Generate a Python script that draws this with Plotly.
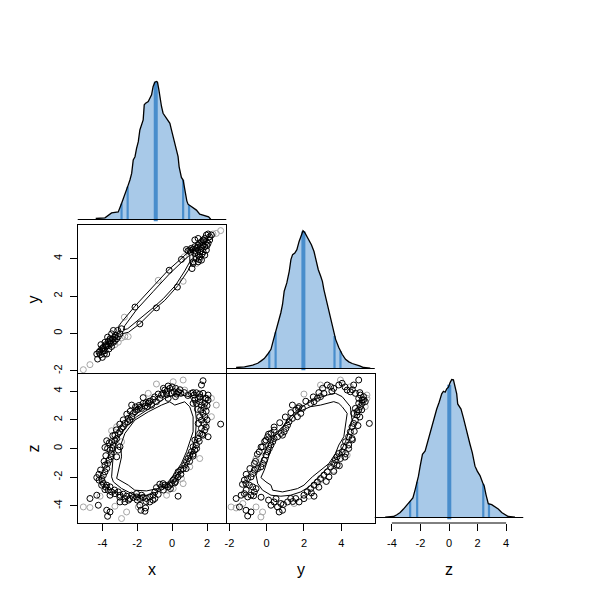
import numpy as np
import plotly.graph_objects as go

# ---------------- data ----------------
# marginal densities (relative height, peak = 1)
dens_x_val = [-4.38, -3.85, -3.47, -3.09, -2.90, -2.71, -2.52, -2.42, -2.32, -2.23, -2.13, -2.04, -1.94, -1.85,
              -1.75, -1.66, -1.60, -1.52, -1.37, -1.28, -1.18, -1.09, -0.99, -0.90, -0.84, -0.76, -0.71, -0.65,
              -0.61, -0.52, -0.42, -0.23, -0.13, -0.04, 0.06, 0.15, 0.25, 0.34, 0.40, 0.46, 0.53, 0.63, 0.72,
              0.78, 0.84, 0.91, 1.07, 1.20, 1.39, 1.58, 1.77, 1.96, 2.09, 2.21]
dens_x_h = [0.007, 0.012, 0.048, 0.055, 0.116, 0.177, 0.249, 0.286, 0.334, 0.431, 0.455, 0.516, 0.564, 0.649,
            0.697, 0.722, 0.831, 0.843, 0.855, 0.879, 0.903, 0.964, 0.995, 1.0, 0.995, 0.940, 0.891, 0.855,
            0.819, 0.770, 0.751, 0.722, 0.697, 0.649, 0.601, 0.564, 0.516, 0.455, 0.382, 0.334, 0.305, 0.286,
            0.225, 0.164, 0.135, 0.111, 0.097, 0.087, 0.068, 0.038, 0.031, 0.026, 0.019, 0.002]

dens_y_val = [-1.64, -1.19, -0.75, -0.48, -0.30, -0.13, 0.05, 0.23, 0.37, 0.50, 0.59, 0.67, 0.76, 0.85, 0.94,
              1.08, 1.21, 1.30, 1.39, 1.51, 1.62, 1.74, 1.87, 1.95, 2.04, 2.15, 2.27, 2.40, 2.54, 2.68, 2.77,
              2.90, 2.99, 3.07, 3.22, 3.34, 3.52, 3.61, 3.70, 3.87, 4.05, 4.23, 4.41, 4.59, 4.76, 4.99, 5.20, 5.56]
dens_y_h = [0.007, 0.012, 0.024, 0.038, 0.055, 0.072, 0.103, 0.139, 0.211, 0.271, 0.307, 0.356, 0.404, 0.464,
            0.560, 0.620, 0.704, 0.789, 0.825, 0.837, 0.861, 0.921, 0.969, 0.998, 0.986, 0.957, 0.933, 0.897,
            0.848, 0.765, 0.716, 0.668, 0.632, 0.572, 0.488, 0.404, 0.307, 0.247, 0.211, 0.152, 0.103, 0.067,
            0.048, 0.036, 0.031, 0.019, 0.007, 0.002]

dens_z_val = [-4.47, -3.89, -3.65, -3.42, -3.19, -2.95, -2.72, -2.53, -2.37, -2.25, -2.14, -2.02, -1.86, -1.67,
              -1.51, -1.32, -1.21, -1.04, -0.86, -0.69, -0.51, -0.39, -0.27, -0.16, -0.04, 0.07, 0.19, 0.31,
              0.42, 0.54, 0.61, 0.73, 0.84, 1.00, 1.19, 1.35, 1.47, 1.63, 1.82, 1.98, 2.17, 2.36, 2.47, 2.59,
              2.75, 2.99, 3.22, 3.45, 3.69, 3.92, 4.15, 4.62]
dens_z_h = [0.003, 0.007, 0.020, 0.036, 0.061, 0.088, 0.117, 0.142, 0.202, 0.251, 0.299, 0.372, 0.458, 0.482,
            0.543, 0.604, 0.664, 0.726, 0.786, 0.835, 0.896, 0.915, 0.908, 0.932, 0.944, 0.976, 1.0, 0.998,
            0.956, 0.896, 0.823, 0.799, 0.786, 0.726, 0.640, 0.591, 0.531, 0.470, 0.372, 0.336, 0.304, 0.251,
            0.226, 0.166, 0.100, 0.093, 0.080, 0.061, 0.036, 0.020, 0.007, 0.003]

# quantile markers (outer four) and medians
quant_x = [-2.90, -2.55, 0.63, 0.97]
quant_y = [0.14, 0.48, 3.64, 3.96]
quant_z = [-2.72, -2.23, 2.40, 2.80]
median_x = -0.94
median_y = 1.97
median_z = 0.02

# axis ranges and ticks
range_x = [-5.41, 3.10]
range_y = [-2.17, 5.80]
range_z = [-5.20, 5.20]
ticks_x = [-4, -2, 0, 2]
ticks_y = [-2, 0, 2, 4]
ticks_z = [-4, -2, 0, 2, 4]
var_names = ["x", "y", "z"]

# ---- x vs y panel ----
xy_black_x = [-4.27, -4.32, -4.19, -4.04, -4.08, -3.94, -3.85, -3.75, -3.85, -3.66, -3.70, -3.56, -3.47, -3.37,
              -3.51, -3.28, -3.18, -3.09, -2.99, -3.75, -3.62, -3.89, -4.00, -3.47, -3.37, -3.66, -3.12, -2.90,
              -2.13, -1.85, -3.81, -3.96, -4.11, -3.54, -3.31,
              0.53, 1.14, 0.30, -0.90, 1.01, 1.10, 1.20, 1.30, 1.39, 1.49, 1.58, 1.68, 1.77, 1.87, 1.96, 2.06,
              2.15, 1.96, 1.77, 1.68, 1.58, 1.49, 1.39, 1.49, 1.58, 1.77, 1.87, 2.06, 2.15, 1.30, 1.20, 1.68,
              1.87, 1.96, 0.91, 0.82, 1.30, 1.49, 1.20, 2.25, -0.17,
              -4.15, -3.98, -3.80, -3.60, -3.42, -3.25, 1.05, 1.35, 1.62, 1.82, 2.00, 1.72, 1.45, 1.55]
xy_black_y = [-1.37, -1.10, -1.01, -0.83, -0.60, -0.74, -0.92, -0.65, -0.47, -0.42, -0.20, -0.29, -0.02, 0.16,
              -0.53, -0.38, -0.29, -0.17, -0.02, -1.10, -0.83, -1.10, -1.28, -0.70, -0.47, -0.65, 0.16, 0.25,
              1.41, 0.51, -0.70, -0.95, -1.14, -0.38, -0.20,
              3.96, 3.47, 2.48, 1.37, 4.46, 4.55, 4.49, 4.64, 4.55, 4.73, 4.82, 4.91, 5.00, 5.08, 5.26, 5.32,
              5.17, 4.91, 4.73, 4.55, 4.37, 4.19, 4.01, 3.83, 4.10, 4.37, 4.64, 4.82, 5.00, 4.28, 3.83, 3.92,
              4.19, 4.46, 4.42, 4.49, 5.00, 5.08, 3.74, 5.26, 3.38,
              -0.95, -0.80, -0.60, -0.50, -0.30, -0.10, 4.35, 4.40, 4.65, 4.95, 4.70, 4.25, 4.60, 3.95]
xy_grey_x = [-5.09, -4.71, -2.90, -2.71, -2.52, -3.28, -2.74, -3.09, 2.78, 2.53, 2.34, -0.80, 0.63, 0.69, 1.39]
xy_grey_y = [-1.94, -1.67, -0.24, -0.17, -0.17, -0.60, 0.87, -0.47, 5.50, 5.35, 5.32, 2.84, 2.79, 4.10, 3.74]
xy_c1_x = [-3.08, -2.90, -2.14, -1.18, -0.23, 0.53, 1.01, 1.20, 1.20, 0.92, 0.34, -0.42, -0.99, -1.85, -2.51,
           -2.90, -3.08, -3.08]
xy_c1_y = [0.37, 0.60, 1.45, 2.40, 3.38, 4.01, 4.42, 4.46, 3.92, 3.38, 2.57, 1.77, 1.32, 0.52, 0.06, -0.02,
           0.15, 0.37]
xy_c2_x = [-2.71, -2.04, -1.08, -0.14, 0.63, 1.01, 1.01, 0.72, 0.19, -0.51, -1.08, -1.94, -2.55, -2.80, -2.71]
xy_c2_y = [0.42, 1.27, 2.25, 3.20, 3.88, 4.19, 3.83, 3.34, 2.57, 1.86, 1.38, 0.69, 0.25, 0.19, 0.42]

# ---- x vs z panel ----
xz_black_x = [1.68, 1.77, -0.23, -0.13, -0.42, -0.61, -0.80, -0.71, -0.52, -0.32, -0.04, 0.11, 0.25, 0.34,
              0.50, 0.19, -0.23, -1.09, -0.90, -1.18, -1.41, -1.66, -1.66,
              1.10, 1.26, 1.39, 1.58, 1.77, 2.06, 1.96, 1.49, 1.30, 1.20, 1.39, 1.58, 1.68, 1.87, 1.83, 1.64,
              1.45, 1.77, 1.58, 1.87, 1.68, 1.83, 1.49, 1.68, 1.87, 1.58, 1.77, 2.06, 2.78, 2.06,
              1.49, 1.30, 1.39, 1.20, 1.30, 1.10, 1.01, 1.20, 0.91, 0.82, 0.72, 0.63, 0.50, 0.34, 0.25, 0.15,
              0.34, 0.06, -0.04, -0.13, 0.15, -0.23, -0.42, -0.52, -0.71, -0.61, 0.34,
              -0.90, -0.99, -1.09, -0.99, -1.28, -1.47, -1.66, -1.85, -2.04, -2.23, -2.42, -2.61, -2.80, -2.99,
              -3.09, -3.28, -3.47, -3.56, -3.66, -3.56, -3.75, -3.85, -1.75, -2.04, -2.32, -2.71, -1.28,
              -4.32, -4.71, -4.23, -3.75, -3.70, -3.56, -1.85, -1.79, -1.56, -1.52, -2.99, -2.71,
              -4.32, -4.19, -4.04, -3.94, -3.85, -3.75, -3.85, -3.70, -3.62, -3.51, -3.47, -3.56, -3.43, -3.85,
              -3.37, -3.47, -3.28, -3.18, -3.28, -3.09, -2.99, -2.90, -2.80, -2.71, -2.55, -2.42, -2.52, -2.32,
              -2.23, -2.13, -2.04, -1.94, -1.85, -1.75, -1.56, -1.37, -1.28, -2.32, -3.75, -3.09, -2.99, -3.18,
              -4.04, -3.94,
              -1.00, -0.50, 0.00, 0.20, -0.30, 0.45, 0.70, 0.90, -1.30, -1.50, -1.90, -2.10, -2.40, -2.60, -2.80,
              -3.00, -3.20, -3.40, -3.60, -3.70, -3.80, -3.90, -4.10, -4.20, -4.00, -3.80, -3.30, -3.00, -2.50,
              -2.00, -1.50, -1.10, -0.80, -0.50, -0.10, 0.20, 0.50, 0.80, 1.00, 1.20, 1.40, 1.55, 1.70, 1.95,
              2.00, 1.95, 2.00, 1.90, 1.60, 1.20]
xz_black_z = [4.43, 4.73, 4.36, 4.20, 4.08, 3.73, 3.80, 3.50, 3.85, 3.80, 3.85, 3.96, 3.80, 3.96,
              3.85, 3.62, 3.50, 3.43, 3.27, 3.03, 2.92, 3.15, 3.55,
              3.85, 3.73, 3.89, 3.80, 3.85, 3.73, 3.50, 3.50, 3.38, 3.15, 3.15, 3.27, 3.03, 3.15, 2.87, 2.68,
              2.73, 2.45, 2.22, 2.22, 1.98, 1.75, 1.75, 1.40, 1.28, 1.05, 0.93, 0.82, 1.70, 3.38,
              0.70, 0.59, 0.24, 0.12, -0.11, -0.23, -0.46, -0.53, -0.70, -0.93, -1.16, -1.40, -1.51, -1.63,
              -1.86, -2.10, -1.98, -2.21, -2.45, -2.56, -2.40, -2.68, -2.56, -2.45, -2.49, -2.68, -3.33,
              -2.73, -3.03, -3.26, -3.49, -3.38, -3.49, -3.42, -3.49, -3.38, -3.42, -3.49, -3.33, -3.19, -3.26,
              -3.03, -3.15, -3.03, -3.26, -2.91, -2.68, -2.56, -2.87, -3.26, -3.15, -3.26, -3.49, -3.73,
              -3.26, -3.49, -3.96, -4.31, -4.73, -4.43, -3.96, -4.31, -4.38, -4.15, -3.73, -3.73,
              -2.03, -2.21, -2.10, -1.86, -1.63, -1.40, -1.16, -1.05, -0.81, -0.58, -0.35, -0.11, 0.00, 0.07,
              0.24, 0.47, 0.54, 0.70, 0.93, 1.05, 1.17, 1.40, 1.52, 1.75, 1.87, 1.98, 2.10, 2.22,
              2.45, 2.57, 2.68, 2.73, 2.87, 2.80, 2.96, 3.15, 3.27, 3.03, 0.54, -0.11, 0.12, -0.58,
              -2.56, -2.45,
              3.60, 4.20, 4.30, 4.20, 4.00, 4.10, 3.90, 3.70, 3.30, 3.20, 3.00, 2.90, 2.60, 2.40, 2.00,
              1.70, 1.30, 0.90, 0.40, 0.00, -0.50, -0.90, -1.50, -1.80, -2.30, -2.70, -2.90, -3.40, -3.60,
              -3.60, -3.70, -3.60, -3.20, -2.90, -2.80, -2.30, -1.80, -1.40, -0.90, -0.40, 0.00, 0.50, 1.00, 1.50,
              2.00, 2.60, 3.00, 3.50, 3.60, 3.90]
xz_grey_x = [0.63, -0.90, -1.37, 0.06, 0.72, 2.53, 2.25, 1.96, 2.25, 1.58, 1.01, 0.63, 0.53, 0.06, -0.32,
             -0.23, -5.09, -4.71, -3.28, -2.90, -2.61, -1.94, -3.47, -3.18, -4.13, -2.90]
xz_grey_z = [4.78, 4.50, 3.85, 4.66, 4.08, 3.03, 3.50, 1.75, 2.22, -0.70, -1.28, -2.45, -2.10, -2.80, -3.26,
             -2.91, -4.08, -4.12, -4.03, -4.89, -4.43, -4.08, 1.24, 1.52, -3.33, 0.47]
xz_c1_x = [-3.18, -2.90, -2.95, -2.71, -2.14, -1.37, -0.61, -0.14, 0.15, 0.72, 1.01, 1.20, 1.20, 1.01, 0.82,
           0.53, 0.15, -0.23, -0.80, -1.47, -2.14, -2.51, -3.08, -3.18]
xz_c1_z = [-2.09, -0.58, 0.23, 1.05, 1.98, 2.56, 3.03, 3.26, 3.03, 3.26, 2.91, 2.21, 1.17, 0.47, -0.23,
           -1.04, -1.74, -2.33, -2.79, -2.96, -2.91, -2.56, -2.21, -2.09]
xz_c2_x = [-3.47, -3.37, -3.18, -2.71, -2.04, -1.18, -0.42, 0.06, 0.53, 1.01, 1.29, 1.39, 1.33, 1.14, 0.82,
           0.34, -0.04, -0.61, -1.37, -2.14, -2.90, -3.37, -3.47]
xz_c2_z = [-1.98, -0.35, 0.58, 1.40, 2.21, 2.91, 3.50, 3.73, 3.73, 3.61, 3.15, 1.98, 0.82, -0.11, -0.93,
           -1.74, -2.33, -2.91, -3.26, -3.26, -2.79, -2.33, -1.98]

# ---- y vs z panel ----
yz_black_y = [3.25, 3.43, 3.60, 3.87, 4.05, 4.67, 4.94, 4.32, 4.49, 4.76, 5.03, 5.20, 5.29, 5.12, 4.94, 3.07,
              2.89, 2.72, 2.54, 2.36, 1.74, 1.92, 1.83, 1.56, 1.65, 1.38, 1.20, 1.12, 1.03, 0.94, 0.85, 0.76,
              0.58, 0.40, 0.32, 0.23, 0.14, 0.05, -0.04, -0.13, -0.22, -0.31, -0.48, -0.66, -0.75, -0.84,
              -1.02, -1.20, -1.11, -0.93, -0.75, -0.57, -0.66, -0.84, -1.02, -1.20, -1.37, -1.64, -1.46, -1.11,
              -1.02, 0.23, 0.40, 0.58, 0.67, 0.85, 0.76, 1.12, 1.29, 1.56, 1.74, 2.54, 2.00, 2.18, 2.36, 2.54,
              2.72, 2.89, 3.07, 3.25, 3.43, 3.34, 3.60, 3.69, 3.78, 3.87, 4.05, 4.14, 4.23, 4.40, 4.49, 4.58,
              4.67, 4.76, 4.85, 4.94, 5.03, 5.12, 4.58, 4.40, 4.23, 3.96, 3.78, 5.51, 4.94, 4.85, 4.67, 4.76,
              1.38, 0.40, 0.23, 0.05, -0.04, -0.22, -0.40, -0.66, -0.84,
              3.00, 3.50, 4.20, 4.60, 5.00, 5.20, 5.10, 5.00, 4.90, 4.70, 4.60, 4.40, 4.20, 3.90, 3.60, 3.20,
              2.80, 2.40, 2.00, 1.40, 0.90, 0.50, 0.10, -0.30, -0.70, -1.10, -1.30, -1.10, -0.90, -0.60, -0.50,
              -0.30, -0.10, 0.10, 0.40, 0.70, 1.00, 1.30, 1.70, 2.10, 2.50, 2.80]
yz_black_z = [4.43, 4.31, 4.20, 4.43, 4.55, 4.43, 4.78, 4.08, 3.96, 3.85, 3.73, 3.62, 3.27, 3.38, 3.50, 3.85,
              3.62, 3.50, 3.27, 3.15, 2.92, 2.80, 2.45, 2.68, 2.22, 2.10, 1.87, 1.63, 1.40, 1.17, 0.93, 1.05,
              0.82, 0.70, 0.47, 0.24, 0.00, -0.23, -0.46, -0.81, -1.05, -1.28, -1.40, -1.51, -1.75, -1.98,
              -2.10, -2.21, -2.45, -2.56, -2.68, -2.80, -3.03, -3.26, -3.38, -3.15, -3.26, -3.49, -4.08, -4.31,
              -4.71, -3.96, -3.73, -4.08, -4.43, -4.31, -3.84, -3.73, -3.49, -3.49, -3.73, -3.33, -3.26, -3.03,
              -2.80, -2.56, -2.33, -2.10, -1.86, -1.63, -1.28, -1.98, -1.05, -0.81, -0.58, -0.35, -0.23, 0.12,
              0.47, 0.82, 1.17, 1.52, 1.75, 1.98, 2.33, 2.68, 2.92, 3.15, 0.70, 0.24, -0.35, -0.70, -1.16,
              1.75, 3.15, 2.57, 2.45, 2.80, 3.03, 1.28, 1.05, 0.82, 0.59, 0.12, -0.23, -1.05, -4.43,
              4.20, 4.00, 4.30, 4.10, 3.90, 3.40, 2.70, 2.20, 1.60, 1.20, 0.60, 0.00, -0.60, -1.20, -1.60, -2.30,
              -2.70, -3.10, -3.50, -3.70, -3.90, -3.50, -3.60, -3.40, -3.30, -2.90, -2.50, -1.80, -1.40, -0.90,
              -0.40, 0.10, 0.50, 1.00, 1.50, 1.80, 2.20, 2.50, 2.80, 3.30, 3.60, 3.90]
yz_grey_y = [2.89, 3.96, 4.49, 2.00, -1.91, -1.64, -1.28, -0.57, -0.31, -0.22, 1.47, 2.27, 2.89, 2.63, 4.32,
             5.38, 5.29, -0.13, -0.57, 3.60, 5.38]
yz_grey_z = [4.43, 4.78, 4.31, 3.80, -4.08, -4.15, -3.84, -4.08, -4.78, -4.43, -3.84, -3.33, -2.21, -2.56,
             -0.46, 3.50, 2.92, 0.47, -0.70, -1.51, 3.73]
yz_c1_y = [-0.31, -0.13, 0.05, 0.23, 0.40, 0.67, 1.03, 1.29, 1.56, 1.92, 2.36, 2.89, 3.25, 3.60, 3.87, 4.05,
           4.32, 4.23, 4.14, 3.87, 3.69, 3.34, 2.89, 2.45, 2.00, 1.65, 1.29, 0.85, 0.32, 0.23, -0.04, -0.31]
yz_c1_z = [-2.03, -1.51, -0.81, 0.12, 0.82, 1.17, 1.75, 1.98, 2.45, 2.68, 2.92, 3.03, 3.15, 3.27, 3.15, 2.92,
           2.45, 1.52, 0.82, 0.24, -0.35, -1.05, -1.51, -1.98, -2.56, -2.80, -2.91, -3.03, -2.91, -2.56,
           -2.33, -2.03]
yz_c2_y = [-0.57, -0.40, -0.22, -0.04, 0.23, 0.49, 0.85, 1.20, 1.65, 2.18, 2.72, 3.25, 3.69, 4.05, 4.49, 4.58,
           4.40, 4.23, 3.96, 3.60, 3.16, 2.72, 2.27, 1.83, 1.29, 0.76, 0.23, -0.22, -0.48, -0.57]
yz_c2_z = [-1.86, -1.28, -0.70, -0.11, 0.59, 1.05, 1.52, 2.10, 2.68, 3.15, 3.50, 3.73, 3.85, 3.62, 2.92, 1.98,
           1.17, 0.47, -0.23, -0.93, -1.51, -2.10, -2.68, -3.03, -3.26, -3.33, -3.26, -2.91, -2.45, -1.86]

# ---------------- styling ----------------
FILL = "rgb(168,201,232)"
QLINE = "rgb(72,141,204)"
GREY = "rgb(165,165,165)"
FONT = "Liberation Sans, Arial, sans-serif"

C1, C2, C3 = [76 / 600, 225 / 600], [225 / 600, 374 / 600], [374 / 600, 523 / 600]
R1, R2, R3 = [1 - 225 / 600, 1 - 76 / 600], [1 - 374 / 600, 1 - 225 / 600], [1 - 523 / 600, 1 - 374 / 600]
DENS_RANGE = [-0.04, 1.04]

fig = go.Figure()
shapes = []


def axn(k):
    return "" if k == 1 else str(k)


def add_density(xs, hs, qs, med, k):
    xa, ya = "x" + axn(k), "y" + axn(k)
    fig.add_trace(go.Scatter(x=xs, y=hs, mode="lines", fill="tozeroy", fillcolor=FILL,
                             line=dict(width=0, color=FILL), xaxis=xa, yaxis=ya, hoverinfo="skip"))
    lx, ly = [], []
    for q in qs:
        lx += [q, q, None]
        ly += [0, float(np.interp(q, xs, hs)), None]
    fig.add_trace(go.Scatter(x=lx, y=ly, mode="lines", line=dict(color=QLINE, width=2.2),
                             xaxis=xa, yaxis=ya, hoverinfo="skip"))
    fig.add_trace(go.Scatter(x=[med, med], y=[-0.012, float(np.interp(med, xs, hs))], mode="lines",
                             line=dict(color=QLINE, width=4), xaxis=xa, yaxis=ya, hoverinfo="skip"))
    fig.add_trace(go.Scatter(x=xs, y=hs, mode="lines", line=dict(color="black", width=1.3),
                             xaxis=xa, yaxis=ya, hoverinfo="skip"))
    shapes.append(dict(type="line", xref=xa + " domain", yref=ya, x0=0, x1=1, y0=0, y1=0,
                       line=dict(color="black", width=1.2)))


def add_scatter(bx, by, gx, gy, contours, k):
    xa, ya = "x" + axn(k), "y" + axn(k)
    fig.add_trace(go.Scatter(x=gx, y=gy, mode="markers", xaxis=xa, yaxis=ya, hoverinfo="skip",
                             marker=dict(symbol="circle-open", size=6, color=GREY, line=dict(width=1))))
    fig.add_trace(go.Scatter(x=bx, y=by, mode="markers", xaxis=xa, yaxis=ya, hoverinfo="skip",
                             marker=dict(symbol="circle-open", size=6, color="black", line=dict(width=1))))
    for cx, cy in contours:
        fig.add_trace(go.Scatter(x=cx, y=cy, mode="lines", xaxis=xa, yaxis=ya, hoverinfo="skip",
                                 line=dict(color="black", width=1)))


add_density(dens_x_val, dens_x_h, quant_x, median_x, 1)
add_scatter(xy_black_x, xy_black_y, xy_grey_x, xy_grey_y, [(xy_c1_x, xy_c1_y), (xy_c2_x, xy_c2_y)], 2)
add_scatter(xz_black_x, xz_black_z, xz_grey_x, xz_grey_z, [(xz_c1_x, xz_c1_z), (xz_c2_x, xz_c2_z)], 3)
add_density(dens_y_val, dens_y_h, quant_y, median_y, 4)
add_scatter(yz_black_y, yz_black_z, yz_grey_y, yz_grey_z, [(yz_c1_y, yz_c1_z), (yz_c2_y, yz_c2_z)], 5)
add_density(dens_z_val, dens_z_h, quant_z, median_z, 6)

# R-style axis line for the bottom-right density, spanning first to last tick
shapes.append(dict(type="line", xref="x6", yref="y6 domain", x0=ticks_z[0], x1=ticks_z[-1], y0=0, y1=0,
                   line=dict(color="black", width=1)))

tickfont = dict(family=FONT, size=11, color="black")


def hidden(domain, rng, anchor):
    return dict(domain=domain, range=rng, anchor=anchor, showgrid=False, zeroline=False, showline=False,
                showticklabels=False, ticks="", fixedrange=True)


def boxed(domain, rng, anchor, tickvals=None, angle=0, mirror=True, side=None):
    d = dict(domain=domain, range=rng, anchor=anchor, showgrid=False, zeroline=False, showline=True,
             mirror=mirror, linecolor="black", linewidth=1, fixedrange=True)
    if side is not None:
        d["side"] = side
    if tickvals is None:
        d.update(showticklabels=False, ticks="")
    else:
        d.update(tickvals=tickvals, ticktext=[str(v) for v in tickvals], ticks="outside", ticklen=7,
                 tickwidth=1, tickcolor="black", tickfont=tickfont, tickangle=angle, ticklabelstandoff=3)
    return d


layout = dict(
    width=600, height=600, margin=dict(l=0, r=0, t=0, b=0),
    paper_bgcolor="white", plot_bgcolor="white", showlegend=False,
    xaxis=hidden(C1, range_x, "y"), yaxis=hidden(R1, DENS_RANGE, "x"),
    # x-y panel: only its top edge from the x axis (bottom edge shared with the x-z panel)
    xaxis2=boxed(C1, range_x, "y2", mirror=False, side="top"),
    yaxis2=boxed(R2, range_y, "x2", ticks_y, -90),
    xaxis3=boxed(C1, range_x, "y3", ticks_x), yaxis3=boxed(R3, range_z, "x3", ticks_z, -90),
    xaxis4=hidden(C2, range_y, "y4"), yaxis4=hidden(R2, DENS_RANGE, "x4"),
    xaxis5=boxed(C2, range_y, "y5", ticks_y),
    # y-z panel: only its right edge from the y axis (left edge shared with the x-z panel)
    yaxis5=boxed(R3, range_z, "x5", mirror=False, side="right"),
    xaxis6=dict(domain=C3, range=range_z, anchor="y6", showgrid=False, zeroline=False, showline=False,
                tickvals=ticks_z, ticktext=[str(v) for v in ticks_z], ticks="outside", ticklen=7,
                tickwidth=1, tickcolor="black", tickfont=tickfont, ticklabelstandoff=3, fixedrange=True),
    yaxis6=hidden(R3, DENS_RANGE, "x6"),
    shapes=shapes,
)
fig.update_layout(**layout)

title_font = dict(family=FONT, size=16, color="black")
ann = []
for i, dom in enumerate([C1, C2, C3]):
    ann.append(dict(text=var_names[i], xref="paper", yref="paper", x=(dom[0] + dom[1]) / 2, y=1 - 569 / 600,
                    showarrow=False, font=title_font, xanchor="center", yanchor="middle"))
for i, dom in [(1, R2), (2, R3)]:
    ann.append(dict(text=var_names[i], xref="paper", yref="paper", x=32 / 600, y=(dom[0] + dom[1]) / 2,
                    showarrow=False, font=title_font, textangle=-90, xanchor="center", yanchor="middle"))
fig.update_layout(annotations=ann)

fig.write_html("out.html", config={"displayModeBar": False},
               post_script="document.body.style.margin='0px';document.body.style.overflow='hidden';")
